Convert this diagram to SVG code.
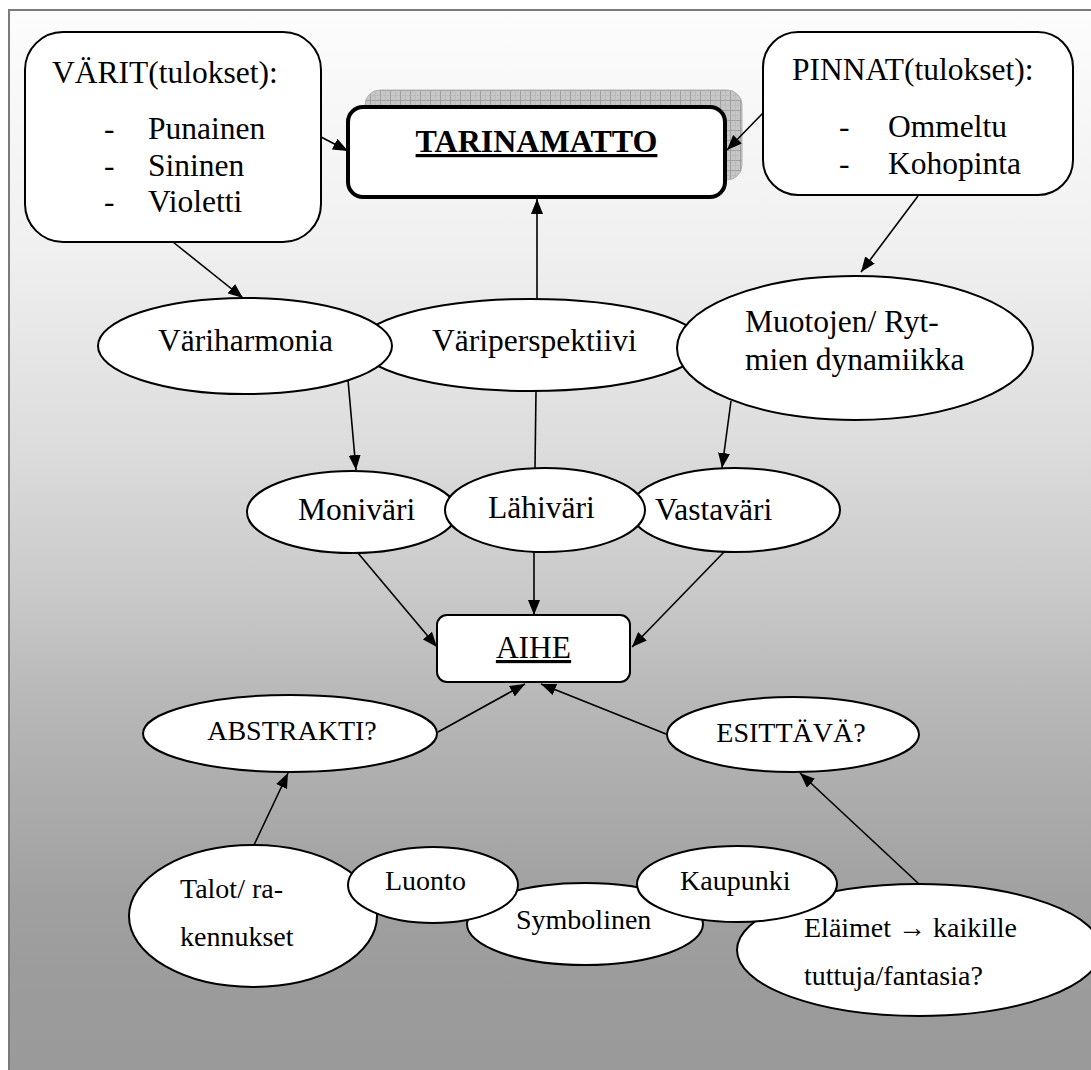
<svg xmlns="http://www.w3.org/2000/svg" width="1091" height="1070" viewBox="0 0 1091 1070" font-family="'Liberation Serif', 'Times New Roman', serif">
  <defs>
    <linearGradient id="bg" gradientUnits="userSpaceOnUse" x1="0" y1="0" x2="0" y2="1070">
      <stop offset="0" stop-color="#fdfdfd"/>
      <stop offset="0.23" stop-color="#f0f0f0"/>
      <stop offset="0.42" stop-color="#dcdcdc"/>
      <stop offset="0.56" stop-color="#c8c8c8"/>
      <stop offset="0.65" stop-color="#b8b8b8"/>
      <stop offset="0.84" stop-color="#a0a0a0"/>
      <stop offset="0.93" stop-color="#9b9b9b"/>
      <stop offset="1" stop-color="#9a9a9a"/>
    </linearGradient>
    <pattern id="grid" patternUnits="userSpaceOnUse" width="10" height="10">
      <rect width="10" height="10" fill="#c6c6c6"/>
      <path d="M0,0.5 H10 M0.5,0 V10" stroke="#9c9c9c" stroke-width="0.9" fill="none"/>
      <path d="M0,5.5 H10 M5.5,0 V10" stroke="#b6b6b6" stroke-width="0.6" fill="none"/>
    </pattern>
    <marker id="arrow" markerUnits="userSpaceOnUse" markerWidth="16" markerHeight="12" refX="15" refY="6" orient="auto">
      <path d="M0,0 L15,6 L0,12 z" fill="#000"/>
    </marker>
    <style>
      .node { fill: #fff; stroke: #000; stroke-width: 2; }
      .heavy { stroke-width: 4; }
      .shadow { fill: url(#grid); stroke: #b0b0b0; stroke-width: 1; }
      .t { font-family: "Liberation Serif", "Times New Roman", serif; fill: #000; }
      .big { font-size: 31.5px; }
      .small { font-size: 28px; }
      .mid { text-anchor: middle; }
      .edge { stroke: #000; stroke-width: 1.6; fill: none; marker-end: url(#arrow); }
      .plain { stroke: #000; stroke-width: 1.6; fill: none; }
    </style>
  </defs>

  <rect id="frame" x="9" y="10" width="1100" height="1080" fill="url(#bg)" stroke="#7a7a7a" stroke-width="2"/>

  <g id="nodes">
    <g id="varit">
      <rect class="node" x="25" y="32" width="296" height="210" rx="38" ry="38"/>
      <text class="t big" x="52" y="83">VÄRIT(tulokset):</text>
      <text class="t big" x="104" y="139">-</text>
      <text class="t big" x="148" y="139">Punainen</text>
      <text class="t big" x="104" y="176">-</text>
      <text class="t big" x="148" y="176">Sininen</text>
      <text class="t big" x="104" y="212">-</text>
      <text class="t big" x="148" y="212">Violetti</text>
    </g>

    <g id="tarinamatto">
      <rect class="shadow" x="365" y="90" width="377" height="90" rx="15" ry="15"/>
      <rect class="node heavy" x="348" y="107" width="377" height="90" rx="15" ry="15"/>
      <text class="t mid" x="536.5" y="152" font-size="32" font-weight="bold" text-decoration="underline">TARINAMATTO</text>
    </g>

    <g id="pinnat">
      <rect class="node" x="763" y="32" width="310" height="163" rx="35" ry="35"/>
      <text class="t big" x="792" y="80">PINNAT(tulokset):</text>
      <text class="t big" x="839" y="137">-</text>
      <text class="t big" x="888" y="137">Ommeltu</text>
      <text class="t big" x="839" y="174">-</text>
      <text class="t big" x="888" y="174">Kohopinta</text>
    </g>

    <g id="variperspektiivi">
      <ellipse class="node" cx="531" cy="345" rx="172" ry="46"/>
      <text class="t big" x="432" y="351">Väriperspektiivi</text>
    </g>

    <g id="variharmonia">
      <ellipse class="node" cx="245" cy="346" rx="147" ry="48"/>
      <text class="t big" x="158" y="351">Väriharmonia</text>
    </g>

    <g id="muotojen">
      <ellipse class="node" cx="855" cy="348" rx="178" ry="72"/>
      <text class="t big" x="745" y="332">Muotojen/ Ryt-</text>
      <text class="t big" x="745" y="370">mien dynamiikka</text>
    </g>

    <g id="monivari">
      <ellipse class="node" cx="352" cy="512" rx="105" ry="41"/>
      <text class="t big" x="298" y="520">Moniväri</text>
    </g>

    <g id="vastavari">
      <ellipse class="node" cx="735" cy="510" rx="105" ry="42"/>
      <text class="t big" x="655" y="520">Vastaväri</text>
    </g>

    <g id="lahivari">
      <ellipse class="node" cx="545" cy="510" rx="100" ry="42"/>
      <text class="t big" x="488" y="518">Lähiväri</text>
    </g>

    <g id="aihe">
      <rect class="node" x="437" y="615" width="193" height="67" rx="10" ry="10"/>
      <text class="t big mid" x="533.5" y="658" text-decoration="underline">AIHE</text>
    </g>

    <g id="abstrakti">
      <ellipse class="node" cx="290" cy="733.5" rx="147" ry="38.5"/>
      <text class="t small mid" x="292" y="740">ABSTRAKTI?</text>
    </g>

    <g id="esittava">
      <ellipse class="node" cx="793" cy="734.5" rx="126" ry="37.5"/>
      <text class="t small mid" x="791" y="742">ESITTÄVÄ?</text>
    </g>

    <g id="talot">
      <ellipse class="node" cx="253" cy="916" rx="124" ry="71"/>
      <text class="t small" x="180" y="898">Talot/ ra-</text>
      <text class="t small" x="180" y="946">kennukset</text>
    </g>

    <g id="symbolinen">
      <ellipse class="node" cx="585" cy="924" rx="118" ry="41"/>
      <text class="t small" x="516" y="929">Symbolinen</text>
    </g>

    <g id="elaimet">
      <ellipse class="node" cx="919" cy="950" rx="182" ry="66"/>
      <text class="t small" x="804" y="937">Eläimet → kaikille</text>
      <text class="t small" x="804" y="985">tuttuja/fantasia?</text>
    </g>

    <g id="luonto">
      <ellipse class="node" cx="433" cy="885" rx="85" ry="38"/>
      <text class="t small" x="385" y="890">Luonto</text>
    </g>

    <g id="kaupunki">
      <ellipse class="node" cx="737" cy="884" rx="100" ry="38"/>
      <text class="t small" x="680" y="890">Kaupunki</text>
    </g>
  </g>

  <g id="connectors">
    <line class="edge" x1="321" y1="137" x2="348" y2="151"/>
    <line class="edge" x1="763" y1="113" x2="727" y2="150"/>
    <line class="edge" x1="537" y1="299" x2="537" y2="199"/>
    <line class="edge" x1="173" y1="242" x2="243" y2="298"/>
    <line class="edge" x1="918" y1="196" x2="861" y2="272"/>
    <line class="edge" x1="348" y1="380" x2="356" y2="470"/>
    <line class="plain" x1="536" y1="391" x2="535" y2="468"/>
    <line class="edge" x1="731" y1="401" x2="722" y2="468"/>
    <line class="edge" x1="358" y1="553" x2="437" y2="647"/>
    <line class="edge" x1="534" y1="552" x2="534" y2="615"/>
    <line class="edge" x1="725" y1="551" x2="632" y2="647"/>
    <line class="edge" x1="438" y1="732" x2="525" y2="684"/>
    <line class="edge" x1="666" y1="734" x2="541" y2="684"/>
    <line class="edge" x1="254" y1="845" x2="288" y2="773"/>
    <line class="edge" x1="919" y1="884" x2="800" y2="773"/>
  </g>
</svg>
